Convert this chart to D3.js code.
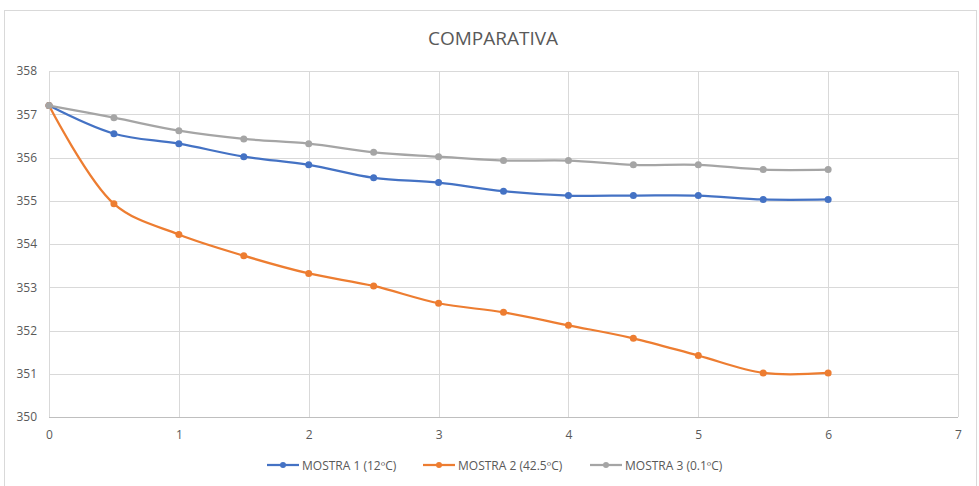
<!DOCTYPE html>
<html><head><meta charset="utf-8">
<script src="https://cdn.jsdelivr.net/npm/d3@7/dist/d3.min.js"></script>
<style>body{margin:0;background:#fff}svg{display:block}</style>
</head><body>
<svg id="c" width="979" height="486"></svg>
<script>
const xs = [0,0.5,1,1.5,2,2.5,3,3.5,4,4.5,5,5.5,6];
const mostra1 = [357.2,356.55,356.32,356.02,355.83,355.53,355.42,355.22,355.12,355.12,355.12,355.03,355.03];
const mostra2 = [357.2,354.93,354.22,353.73,353.32,353.03,352.63,352.42,352.12,351.82,351.42,351.02,351.02];
const mostra3 = [357.2,356.92,356.62,356.43,356.32,356.12,356.02,355.93,355.93,355.83,355.83,355.72,355.72];
const seriesNames = ["MOSTRA 1 (12ºC)","MOSTRA 2 (42.5ºC)","MOSTRA 3 (0.1ºC)"];
const colors = ["#4472C4","#ED7D31","#A5A5A5"];
const xTicks = [0,1,2,3,4,5,6,7];
const yTicks = [350,351,352,353,354,355,356,357,358];
const title = "COMPARATIVA";

const svg = d3.select("#c");
const font = "'Liberation Sans Narrow','Open Sans',sans-serif";
svg.append("rect").attr("x",4.5).attr("y",10.5).attr("width",972).attr("height",480)
  .attr("fill","#fff").attr("stroke","#d9d9d9");

const x = d3.scaleLinear().domain([0,7]).range([49,958]);
const y = d3.scaleLinear().domain([350,358]).range([417,71]);

const g = svg.append("g");
// grid
g.selectAll(".hg").data(yTicks).join("line")
  .attr("x1",x(0)).attr("x2",x(7)).attr("y1",d=>Math.round(y(d))+0.5).attr("y2",d=>Math.round(y(d))+0.5)
  .attr("stroke",d=>d===350?"#bfbfbf":"#d9d9d9").attr("stroke-width",1);
g.selectAll(".vg").data(xTicks).join("line")
  .attr("y1",y(358)).attr("y2",y(350)).attr("x1",d=>Math.round(x(d))+0.5).attr("x2",d=>Math.round(x(d))+0.5)
  .attr("stroke","#d9d9d9").attr("stroke-width",1);

// axes labels using d3 axes
const yAxis = svg.append("g").attr("transform",`translate(${x(0)},0)`)
  .call(d3.axisLeft(y).tickValues(yTicks).tickSize(0).tickPadding(12).tickFormat(d3.format("d")));
yAxis.select(".domain").remove();
yAxis.selectAll("text").attr("fill","#595959").style("font-family",font).style("font-size","12px");

const xAxis = svg.append("g").attr("transform",`translate(0,${y(350)})`)
  .call(d3.axisBottom(x).tickValues(xTicks).tickSize(0).tickPadding(13).tickFormat(d3.format("d")));
xAxis.select(".domain").remove();
xAxis.selectAll("text").attr("fill","#595959").style("font-family",font).style("font-size","12px");

svg.append("text").attr("x",493).attr("y",45).attr("text-anchor","middle")
  .attr("fill","#595959").style("font-family",font).style("font-size","19px").text(title);

const data = [mostra1,mostra2,mostra3];
const line = d3.line().x(d=>x(d[0])).y(d=>y(d[1])).curve(d3.curveCatmullRom.alpha(0.5));
// draw in order: orange, blue, gray? Excel draws series 1 first
data.forEach((vals,i)=>{
  const pts = xs.map((v,j)=>[v,vals[j]]);
  const sg = svg.append("g");
  sg.append("path").attr("d",line(pts)).attr("fill","none").attr("stroke",colors[i]).attr("stroke-width",2.25);
  sg.selectAll("circle").data(pts).join("circle").attr("cx",d=>x(d[0])).attr("cy",d=>y(d[1])).attr("r",3.5).attr("fill",colors[i]);
});

// legend
const legX = [267,423,590];
seriesNames.forEach((n,i)=>{
  const lg = svg.append("g").attr("transform",`translate(${legX[i]},465)`);
  lg.append("line").attr("x1",0).attr("x2",32).attr("stroke",colors[i]).attr("stroke-width",2.25);
  lg.append("circle").attr("cx",16).attr("r",3).attr("fill",colors[i]);
  lg.append("text").attr("x",35).attr("y",4.5).attr("fill","#595959").style("font-family",font).style("font-size","12px").text(n);
});
</script>
</body></html>
